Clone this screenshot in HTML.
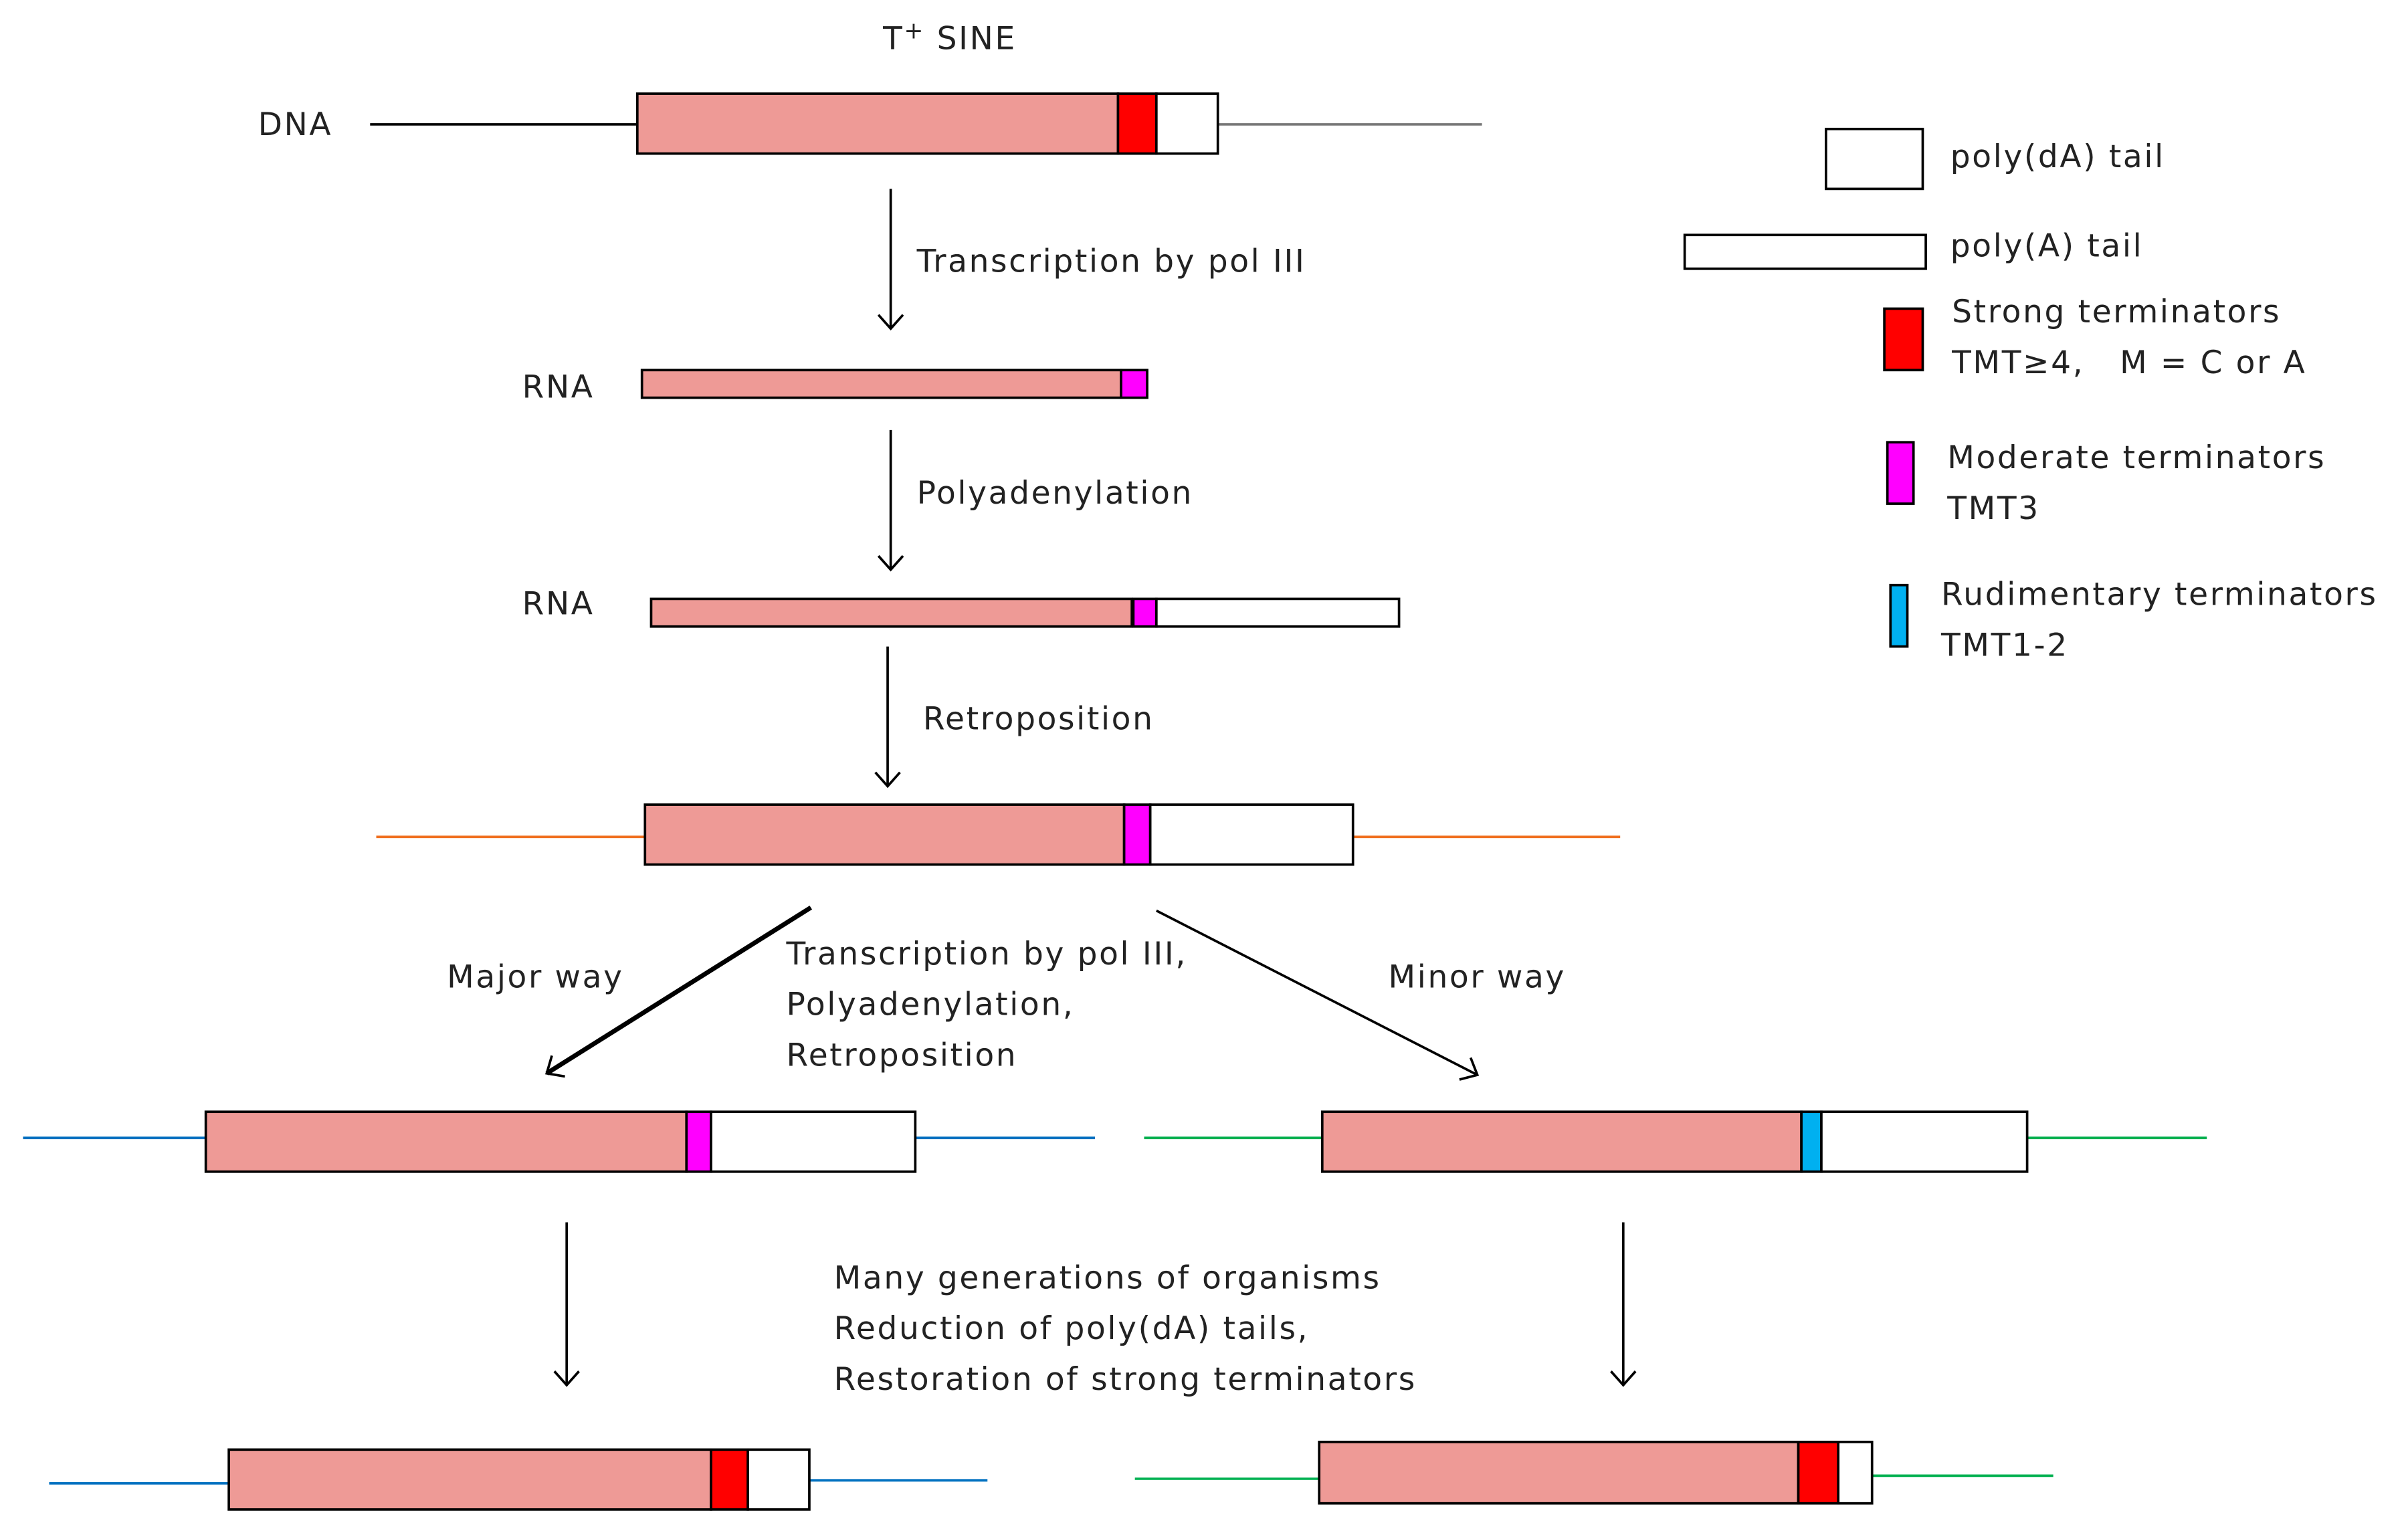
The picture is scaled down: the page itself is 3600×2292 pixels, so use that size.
<!DOCTYPE html>
<html><head><meta charset="utf-8"><style>
html,body{margin:0;padding:0;background:#fff;}
svg{display:block;}
text{font-family:"DejaVu Sans","Liberation Sans",sans-serif;font-size:20.5px;fill:#222;letter-spacing:1.15px;}
</style></head><body>
<svg width="3600" height="2292" viewBox="0 0 1568 998.3" preserveAspectRatio="none" xmlns="http://www.w3.org/2000/svg">
<defs>
<marker id="a" markerWidth="20" markerHeight="20" refX="10" refY="10" orient="auto" markerUnits="userSpaceOnUse">
<path d="M1,2 L10,10 L1,18" fill="none" stroke="#000" stroke-width="1.6"/>
</marker>
</defs>
<g stroke="#000" stroke-width="1.6">
<line x1="241" y1="81" x2="415" y2="81"/>
<line x1="793" y1="81" x2="965" y2="81" stroke="#777"/>
<rect x="415" y="61" width="313" height="39" fill="#EE9A96"/>
<rect x="728" y="61" width="25" height="39" fill="#FF0000"/>
<rect x="753" y="61" width="40" height="39" fill="#fff"/>
<line x1="580" y1="123" x2="580" y2="214" marker-end="url(#a)"/>
<rect x="418" y="241" width="312" height="18" fill="#EE9A96"/>
<rect x="730" y="241" width="17" height="18" fill="#FF00FF"/>
<line x1="580" y1="280" x2="580" y2="371" marker-end="url(#a)"/>
<rect x="424" y="390" width="313" height="18" fill="#EE9A96"/>
<rect x="738" y="390" width="15" height="18" fill="#FF00FF"/>
<rect x="753" y="390" width="158" height="18" fill="#fff"/>
<line x1="578" y1="421" x2="578" y2="512" marker-end="url(#a)"/>
<line x1="245" y1="545" x2="420" y2="545" stroke="#F07020"/>
<line x1="881" y1="545" x2="1055" y2="545" stroke="#F07020"/>
<rect x="420" y="524" width="312" height="39" fill="#EE9A96"/>
<rect x="732" y="524" width="17" height="39" fill="#FF00FF"/>
<rect x="749" y="524" width="132" height="39" fill="#fff"/>
<line x1="528" y1="591" x2="356" y2="699" stroke-width="3" marker-end="url(#a)"/>
<line x1="753" y1="593" x2="962" y2="700" marker-end="url(#a)"/>
<line x1="15" y1="741" x2="134" y2="741" stroke="#0070C0"/>
<line x1="596" y1="741" x2="713" y2="741" stroke="#0070C0"/>
<rect x="134" y="724" width="313" height="39" fill="#EE9A96"/>
<rect x="447" y="724" width="16" height="39" fill="#FF00FF"/>
<rect x="463" y="724" width="133" height="39" fill="#fff"/>
<line x1="745" y1="741" x2="861" y2="741" stroke="#00B050"/>
<line x1="1320" y1="741" x2="1437" y2="741" stroke="#00B050"/>
<rect x="861" y="724" width="312" height="39" fill="#EE9A96"/>
<rect x="1173" y="724" width="13" height="39" fill="#00B0F0"/>
<rect x="1186" y="724" width="134" height="39" fill="#fff"/>
<line x1="369" y1="796" x2="369" y2="902" marker-end="url(#a)"/>
<line x1="1057" y1="796" x2="1057" y2="902" marker-end="url(#a)"/>
<line x1="32" y1="966" x2="149" y2="966" stroke="#0070C0"/>
<line x1="527" y1="964" x2="643" y2="964" stroke="#0070C0"/>
<rect x="149" y="944" width="314" height="39" fill="#EE9A96"/>
<rect x="463" y="944" width="24" height="39" fill="#FF0000"/>
<rect x="487" y="944" width="40" height="39" fill="#fff"/>
<line x1="739" y1="963" x2="859" y2="963" stroke="#00B050"/>
<line x1="1219" y1="961" x2="1337" y2="961" stroke="#00B050"/>
<rect x="859" y="939" width="312" height="40" fill="#EE9A96"/>
<rect x="1171" y="939" width="26" height="40" fill="#FF0000"/>
<rect x="1197" y="939" width="22" height="40" fill="#fff"/>
<rect x="1189" y="84" width="63" height="39" fill="#fff"/>
<rect x="1097" y="153" width="157" height="22" fill="#fff"/>
<rect x="1227" y="201" width="25" height="40" fill="#FF0000"/>
<rect x="1229" y="288" width="17" height="40" fill="#FF00FF"/>
<rect x="1231" y="381" width="11" height="40" fill="#00B0F0"/>
</g>
<g>
<text x="575" y="32">T<tspan dy="-7" font-size="15">+</tspan><tspan dy="7"> SINE</tspan></text>
<text x="168" y="88">DNA</text>
<text x="597" y="177">Transcription by pol III</text>
<text x="340" y="259">RNA</text>
<text x="597" y="328">Polyadenylation</text>
<text x="340" y="400">RNA</text>
<text x="601" y="475">Retroposition</text>
<text x="291" y="643">Major way</text>
<text x="512" y="628">Transcription by pol III,</text>
<text x="512" y="661">Polyadenylation,</text>
<text x="512" y="694">Retroposition</text>
<text x="904" y="643">Minor way</text>
<text x="543" y="839">Many generations of organisms</text>
<text x="543" y="872">Reduction of poly(dA) tails,</text>
<text x="543" y="905">Restoration of strong terminators</text>
<text x="1270" y="109">poly(dA) tail</text>
<text x="1270" y="167">poly(A) tail</text>
<text x="1271" y="210">Strong terminators</text>
<text x="1271" y="243">TMT≥4,&#160;&#160; M = C or A</text>
<text x="1268" y="305">Moderate terminators</text>
<text x="1268" y="338">TMT3</text>
<text x="1264" y="394">Rudimentary terminators</text>
<text x="1264" y="427">TMT1-2</text>
</g>
</svg>
</body></html>
